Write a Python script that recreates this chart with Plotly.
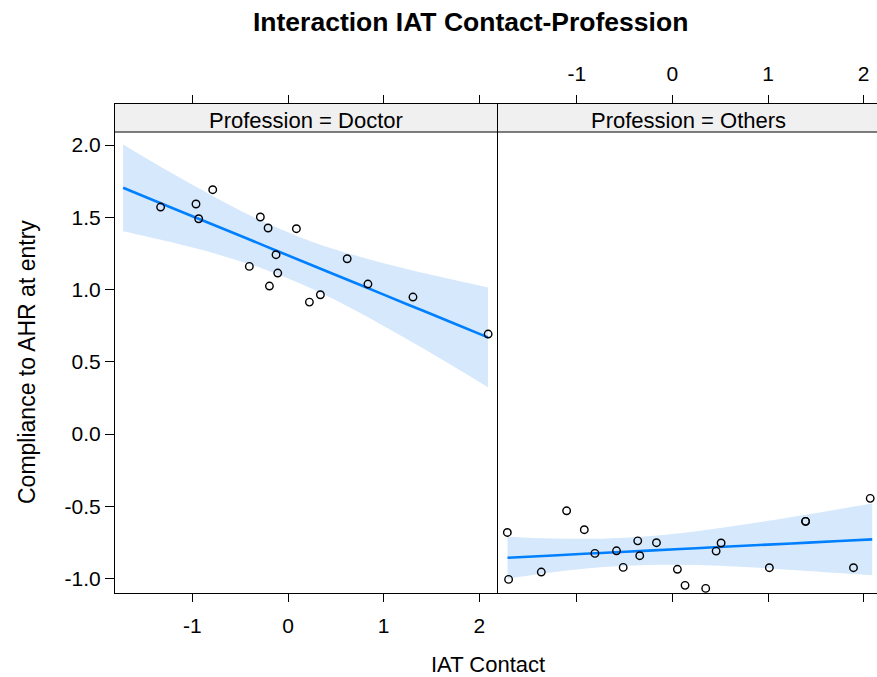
import plotly.graph_objects as go

# ---------------- data ----------------
doctor_x = [-1.333, -0.788, -0.963, -0.935, -0.290, -0.209, 0.087, -0.126, -0.405,
            -0.108, -0.195, 0.223, 0.338, 0.618, 0.835, 1.306, 2.092]
doctor_y = [1.571, 1.691, 1.592, 1.490, 1.502, 1.426, 1.421, 1.241, 1.160,
            1.114, 1.024, 0.913, 0.964, 1.213, 1.038, 0.948, 0.692]

others_x = [-1.727, -1.714, -1.372, -1.107, -0.922, -0.811, -0.585, -0.515, -0.363, -0.342,
            -0.167, 0.052, 0.132, 0.348, 0.457, 0.509, 1.014, 1.393, 1.393, 1.894, 2.069]
others_y = [-0.681, -1.006, -0.955, -0.531, -0.662, -0.826, -0.808, -0.923, -0.739, -0.842,
            -0.752, -0.936, -1.047, -1.068, -0.810, -0.754, -0.925, -0.604, -0.604, -0.925, -0.445]

fit_x = [-1.725, -1.25, -0.75, -0.25, 0.25, 0.75, 1.25, 1.75, 2.09]
doctor_fit = [1.704, 1.575, 1.440, 1.304, 1.168, 1.033, 0.897, 0.762, 0.669]
doctor_upper = [2.004, 1.818, 1.634, 1.467, 1.331, 1.227, 1.140, 1.064, 1.015]
doctor_lower = [1.404, 1.332, 1.246, 1.141, 1.005, 0.839, 0.654, 0.460, 0.323]
others_fit = [-0.856, -0.840, -0.823, -0.807, -0.790, -0.773, -0.757, -0.740, -0.729]
others_upper = [-0.710, -0.723, -0.724, -0.708, -0.673, -0.626, -0.574, -0.518, -0.480]
others_lower = [-1.002, -0.957, -0.922, -0.906, -0.907, -0.920, -0.940, -0.962, -0.978]

x_ticks = [-1, 0, 1, 2]
x_tick_labels = ["-1", "0", "1", "2"]
y_ticks = [-1.0, -0.5, 0.0, 0.5, 1.0, 1.5, 2.0]
y_tick_labels = ["-1.0", "-0.5", "0.0", "0.5", "1.0", "1.5", "2.0"]
panels = ["Profession = Doctor", "Profession = Others"]

# ---------------- styling ----------------
FONT = "Liberation Sans, Arial, sans-serif"
BLUE = "#0080FF"
BAND = "#D6E8FC"
W, H = 877, 677
ML, MR, MT, MB = 115, 0, 104, 84
PW, PH = W - ML - MR, H - MT - MB
split = 382.5 / PW

fig = go.Figure()

def add_panel(xa, ya, xs, ys, fx, fy, lo, up):
    fig.add_trace(go.Scatter(x=fx, y=lo, mode="lines", line=dict(width=0, shape="spline"),
                             hoverinfo="skip", showlegend=False, xaxis=xa, yaxis=ya))
    fig.add_trace(go.Scatter(x=fx, y=up, mode="lines", line=dict(width=0, shape="spline"),
                             fill="tonexty", fillcolor=BAND, hoverinfo="skip",
                             showlegend=False, xaxis=xa, yaxis=ya))
    fig.add_trace(go.Scatter(x=fx, y=fy, mode="lines", line=dict(color=BLUE, width=2.6, shape="spline"),
                             showlegend=False, xaxis=xa, yaxis=ya))
    fig.add_trace(go.Scatter(x=xs, y=ys, mode="markers",
                             marker=dict(symbol="circle-open", size=7.5, color="black",
                                         line=dict(width=1.4, color="black")),
                             showlegend=False, xaxis=xa, yaxis=ya))

add_panel("x", "y", doctor_x, doctor_y, fit_x, doctor_fit, doctor_lower, doctor_upper)
add_panel("x2", "y2", others_x, others_y, fit_x, others_fit, others_lower, others_upper)

tickfont = dict(family=FONT, size=21, color="black")
common_x = dict(tickmode="array", tickvals=x_ticks, ticktext=x_tick_labels,
                showgrid=False, zeroline=False, showline=True, linecolor="black", linewidth=1.2,
                ticks="outside", ticklen=8, tickwidth=1.2, tickcolor="black",
                mirror="ticks", tickfont=tickfont, fixedrange=True, ticklabelstandoff=6,
                automargin=False)

fig.update_layout(
    width=W, height=H,
    margin=dict(l=ML, r=MR, t=MT, b=MB, autoexpand=False),
    paper_bgcolor="white", plot_bgcolor="white",
    showlegend=False,
    xaxis=dict(domain=[0, split], range=[-1.81, 2.19], anchor="y", side="bottom", **common_x),
    xaxis2=dict(domain=[split, 1], range=[-1.83, 2.14], anchor="y2", side="top", **common_x),
    yaxis=dict(range=[-1.100, 2.284], tickmode="array", tickvals=y_ticks, ticktext=y_tick_labels,
               showgrid=False, zeroline=False, showline=True, linecolor="black", linewidth=1.2,
               ticks="outside", ticklen=9, tickwidth=1.2, tickcolor="black",
               tickfont=tickfont, anchor="x", fixedrange=True, ticklabelstandoff=0,
               automargin=False),
    yaxis2=dict(range=[-1.100, 2.284], matches="y", showticklabels=False, ticks="",
                showgrid=False, zeroline=False, showline=True, linecolor="black", linewidth=1.2,
                anchor="x2", fixedrange=True, automargin=False),
)

# strips
strip_bottom = (593 - 132) / PH
strip_centers = [(115 + 497.5) / 2, (497.5 + 880) / 2]
for i, (x0, x1) in enumerate([(0, split), (split, 1)]):
    fig.add_shape(type="rect", xref="paper", yref="paper", x0=x0, x1=x1,
                  y0=strip_bottom, y1=1, fillcolor="#F0F0F0", line=dict(width=0), layer="below")
    fig.add_shape(type="line", xref="paper", yref="paper", x0=x0, x1=x1,
                  y0=strip_bottom, y1=strip_bottom, line=dict(color="black", width=1.2))
    fig.add_annotation(xref="paper", yref="paper", x=(strip_centers[i] - ML) / PW,
                       y=(1 + strip_bottom) / 2 - 2 / PH, text=panels[i], showarrow=False,
                       font=dict(family=FONT, size=22, color="black"),
                       xanchor="center", yanchor="middle")

# titles
fig.add_annotation(xref="paper", yref="paper", x=(488 - ML) / PW, y=-(664 - 593) / PH,
                   text="IAT Contact", showarrow=False, xanchor="center", yanchor="middle",
                   font=dict(family=FONT, size=22, color="black"))
fig.add_annotation(xref="paper", yref="paper", x=-(115 - 27) / PW, y=(593 - 362) / PH,
                   text="Compliance to AHR at entry", showarrow=False, textangle=-90,
                   xanchor="center", yanchor="middle",
                   font=dict(family=FONT, size=23, color="black"))
fig.add_annotation(xref="paper", yref="paper", x=(470 - ML) / PW, y=1 + (104 - 22) / PH,
                   text="<b>Interaction IAT Contact-Profession</b>", showarrow=False,
                   xanchor="center", yanchor="middle",
                   font=dict(family=FONT, size=26.5, color="black"))

fig.write_html("out.html",
               config={"displayModeBar": False},
               post_script="document.body.style.margin='0';document.body.style.padding='0';"
                           "document.body.style.overflow='hidden';")
